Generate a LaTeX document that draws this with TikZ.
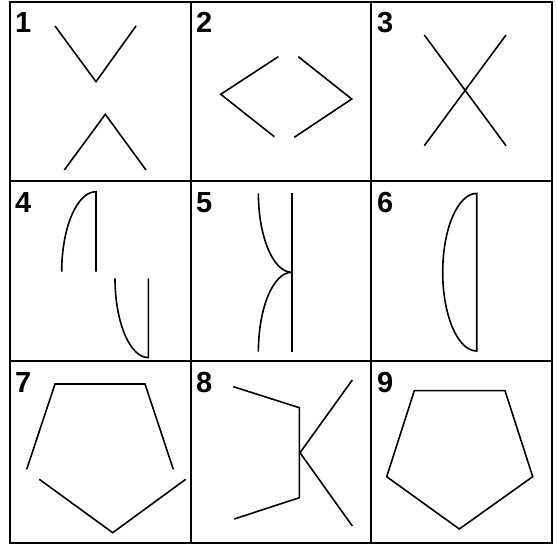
\documentclass[tikz,border=0pt]{standalone}
\usepackage{fontspec}
\setmainfont{Liberation Sans}
\begin{document}
\begin{tikzpicture}[x=1bp,y=1bp,
  gridline/.style={line width=2bp,black},
  shape line/.style={line width=1.6bp,black,line join=miter},
  numlabel/.style={font=\fontsize{29bp}{29bp}\selectfont\bfseries,inner sep=0pt,anchor=base west}]
\useasboundingbox (0,0) rectangle (557,544);
% grid
\draw[gridline] (10,1) rectangle (552,542);
\draw[gridline] (190.5,1) -- (190.5,542);
\draw[gridline] (371,1) -- (371,542);
\draw[gridline] (10,363) -- (552,363);
\draw[gridline] (10,182.5) -- (552,182.5);
% labels
\node[numlabel] (l1) at (15,511) {1};
\node[numlabel] (l2) at (196,511) {2};
\node[numlabel] (l3) at (377,511) {3};
\node[numlabel] (l4) at (15,331) {4};
\node[numlabel] (l5) at (196,331) {5};
\node[numlabel] (l6) at (377,331) {6};
\node[numlabel] (l7) at (15,151) {7};
\node[numlabel] (l8) at (196,151) {8};
\node[numlabel] (l9) at (377,151) {9};
% 1
\draw[shape line] (55,518) -- (96,462.3) -- (136,518);
\draw[shape line] (64.3,374) -- (105.3,429.7) -- (146,374);
% 2
\draw[shape line] (278.3,487.3) -- (220.7,449.7) -- (274.3,407.3);
\draw[shape line] (298.3,487.3) -- (351.7,445) -- (294.3,406.7);
% 3
\draw[shape line] (424.3,509) -- (506,398.3);
\draw[shape line] (506,509) -- (424.3,398.3);
% 4
\draw[shape line] (96,272.3) -- (96,352.3) arc[start angle=90,end angle=180,x radius=34.3,y radius=80];
\draw[shape line] (115,265.7) arc[start angle=180,end angle=270,x radius=33.3,y radius=79.3] -- (148.3,265.7);
% 5
\draw[shape line] (291.7,350.7) -- (291.7,192.3);
\draw[shape line] (258.4,350.7) arc[start angle=180,end angle=270,x radius=33.3,y radius=79];
\draw[shape line] (291.7,271.7) arc[start angle=90,end angle=180,x radius=33.3,y radius=79.4];
% 6
\draw[shape line] (476.7,350.6) arc[start angle=90,end angle=270,x radius=34,y radius=78.8] -- cycle;
% 7
\draw[shape line] (26.7,74.7) -- (55,160) -- (145,160) -- (173.3,74.7);
\draw[shape line] (39.3,64.7) -- (112.7,11.3) -- (185.7,64.7);
% 8
\draw[shape line] (233.3,157.3) -- (299.3,136.3) -- (299.3,46.3) -- (234.3,25);
\draw[shape line] (352.3,164) -- (300,91.3) -- (352.3,18);
% 9
\draw[shape line] (414.3,153.3) -- (505,153.3) -- (532.7,67.3) -- (459.3,15) -- (386.7,67.3) -- cycle;
\end{tikzpicture}
\end{document}
